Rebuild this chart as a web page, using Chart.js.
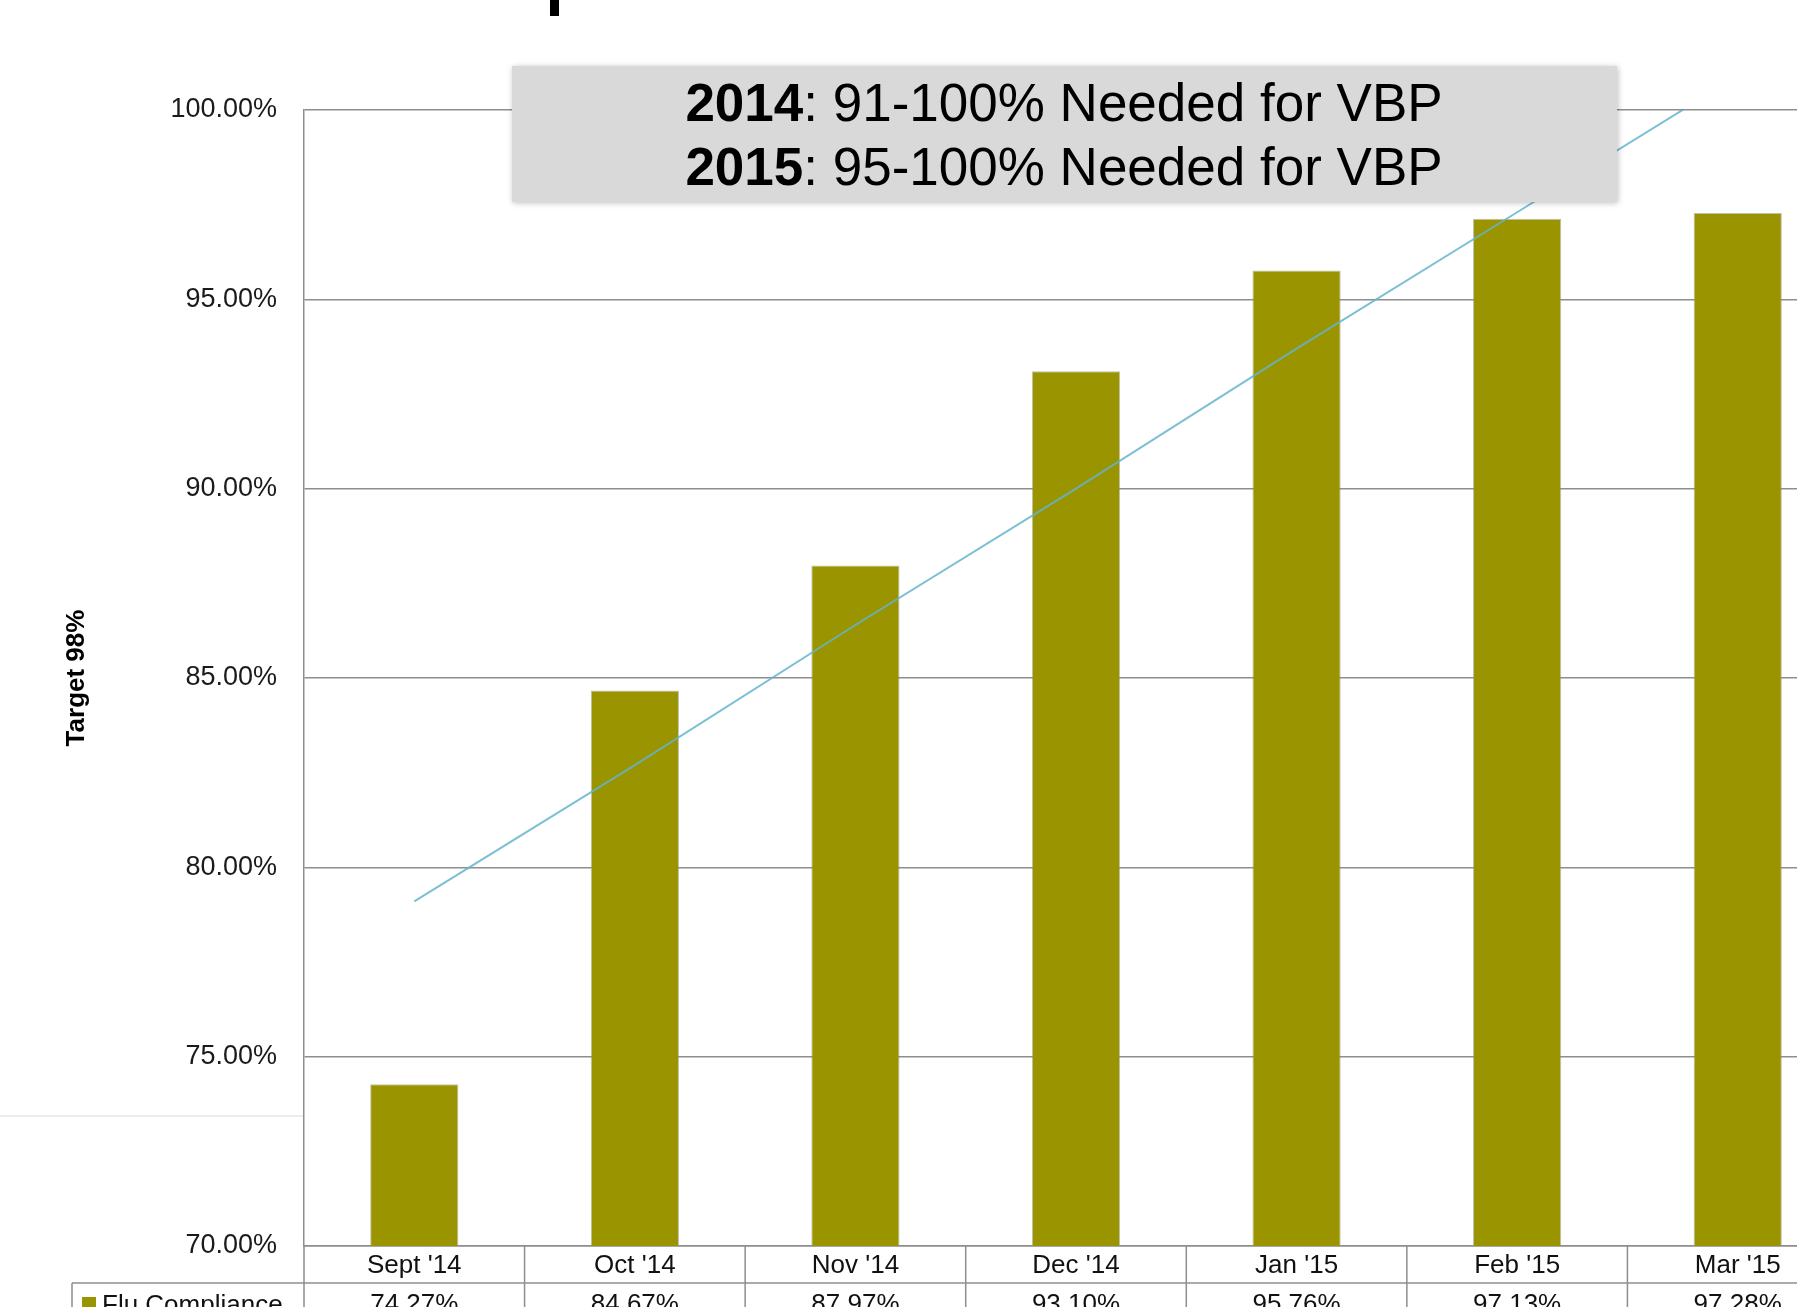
<!DOCTYPE html>
<html>
<head>
  <meta charset="utf-8" />
  <title>Flu Compliance</title>
  <script src="https://cdn.jsdelivr.net/npm/chart.js"></script>
  <style>
    html, body { margin: 0; padding: 0; overflow: hidden; background: #fff; }
    #wrap { position: absolute; left: 0; top: 0; width: 1900px; height: 1307px; }
  </style>
</head>
<body>
  <div id="wrap"><canvas id="fluChart"></canvas></div>

  <script>
    // categories and values
    const months = ["Sept '14", "Oct '14", "Nov '14", "Dec '14", "Jan '15", "Feb '15", "Mar '15"];
    const fluCompliance = [74.27, 84.67, 87.97, 93.10, 95.76, 97.13, 97.28];
    // trend line as it crosses each month
    const trendValues = [79.1, 82.7, 86.4, 90.0, 93.7, 97.3, 100.9];
    const yTicks = [70, 75, 80, 85, 90, 95, 100];

    const OLIVE = '#999400';
    const LINE_GRAY = '#8e8e8e';
    const FONT = '"Liberation Sans", Arial, sans-serif';

    // grey note box, table rows and small slide leftovers
    const overlayPlugin = {
      id: 'overlay',
      afterDraw(chart) {
        const ctx = chart.ctx;
        const area = chart.chartArea;
        const xs = chart.scales.x;
        const half = (xs.getPixelForValue(1) - xs.getPixelForValue(0)) / 2;
        const H = chart.height;
        const rowLine = area.bottom + 37;
        ctx.save();

        // faint slide line at left
        ctx.strokeStyle = '#ececec';
        ctx.lineWidth = 2;
        ctx.beginPath();
        ctx.moveTo(0, 1116);
        ctx.lineTo(area.left - 1, 1116);
        ctx.stroke();

        // descender of the cut off title
        ctx.fillStyle = '#000';
        ctx.fillRect(550, 0, 9, 16);

        // data table grid
        ctx.strokeStyle = LINE_GRAY;
        ctx.lineWidth = 1.5;
        ctx.beginPath();
        for (let i = 0; i <= months.length; i++) {
          const x = xs.getPixelForValue(i) - half;
          ctx.moveTo(x, area.bottom);
          ctx.lineTo(x, H);
        }
        ctx.moveTo(72, rowLine);
        ctx.lineTo(area.right, rowLine);
        ctx.moveTo(72, rowLine);
        ctx.lineTo(72, H);
        ctx.stroke();

        // legend cell
        ctx.fillStyle = OLIVE;
        ctx.fillRect(82, rowLine + 14, 14, 14);
        ctx.fillStyle = '#111';
        ctx.font = '26px ' + FONT;
        ctx.textBaseline = 'alphabetic';
        ctx.textAlign = 'left';
        ctx.fillText('Flu Compliance', 102, rowLine + 30);

        // values row
        ctx.textAlign = 'center';
        fluCompliance.forEach((v, i) => {
          ctx.fillText(v.toFixed(2) + '%', xs.getPixelForValue(i), rowLine + 29);
        });

        // note box
        ctx.save();
        ctx.shadowColor = 'rgba(0,0,0,0.25)';
        ctx.shadowBlur = 6;
        ctx.shadowOffsetX = 1;
        ctx.shadowOffsetY = 1;
        ctx.fillStyle = '#d9d9d9';
        ctx.fillRect(512, 66, 1105, 136);
        ctx.restore();

        const lines = [['2014', ': 91-100% Needed for VBP', 121], ['2015', ': 95-100% Needed for VBP', 185]];
        ctx.textAlign = 'left';
        ctx.fillStyle = '#000';
        lines.forEach(([year, rest, y]) => {
          ctx.font = 'bold 53px ' + FONT;
          const w1 = ctx.measureText(year).width;
          ctx.font = '53px ' + FONT;
          const w2 = ctx.measureText(rest).width;
          const x0 = 1064 - (w1 + w2) / 2;
          ctx.font = 'bold 53px ' + FONT;
          ctx.fillText(year, x0, y);
          ctx.font = '53px ' + FONT;
          ctx.fillText(rest, x0 + w1, y);
        });
        ctx.restore();
      }
    };

    const ctx = document.getElementById('fluChart').getContext('2d');
    const fluChart = new Chart(ctx, {
      type: 'bar',
      data: {
        labels: months,
        datasets: [
          {
            type: 'line',
            label: 'Trend',
            data: trendValues,
            borderColor: 'rgba(100,180,205,0.85)',
            borderWidth: 2,
            pointRadius: 0,
            fill: false,
            tension: 0
          },
          {
            label: 'Flu Compliance',
            data: fluCompliance,
            backgroundColor: OLIVE,
            borderColor: 'rgba(150,150,120,0.6)',
            borderWidth: 1,
            barPercentage: 0.4,
            categoryPercentage: 1.0
          }
        ]
      },
      options: {
        responsive: true,
        maintainAspectRatio: false,
        animation: false,
        layout: { padding: { top: 110, right: 52, bottom: 0, left: 0 } },
        plugins: {
          legend: { display: false },
          tooltip: { enabled: false }
        },
        scales: {
          x: {
            grid: { display: false, drawTicks: false },
            border: { display: true, color: LINE_GRAY, width: 1.5 },
            ticks: {
              color: '#111',
              font: { family: FONT, size: 26 },
              padding: 4,
              maxRotation: 0,
              autoSkip: false
            },
            afterFit: (s) => { s.height = 61; }
          },
          y: {
            min: 70,
            max: 100,
            afterBuildTicks: (s) => { s.ticks = yTicks.map(v => ({ value: v })); },
            grid: { color: LINE_GRAY, lineWidth: 1.5, drawTicks: false },
            border: { display: true, color: LINE_GRAY, width: 1.5 },
            ticks: {
              color: '#1a1a1a',
              font: { family: FONT, size: 27 },
              padding: 27,
              callback: (v) => Number(v).toFixed(2) + '%'
            },
            title: {
              display: true,
              text: 'Target 98%',
              color: '#000',
              font: { family: FONT, size: 26, weight: 'bold' },
              padding: { top: 61, bottom: 0 }
            },
            afterFit: (s) => { s.width = 304; }
          }
        }
      },
      plugins: [overlayPlugin]
    });
  </script>
</body>
</html>
